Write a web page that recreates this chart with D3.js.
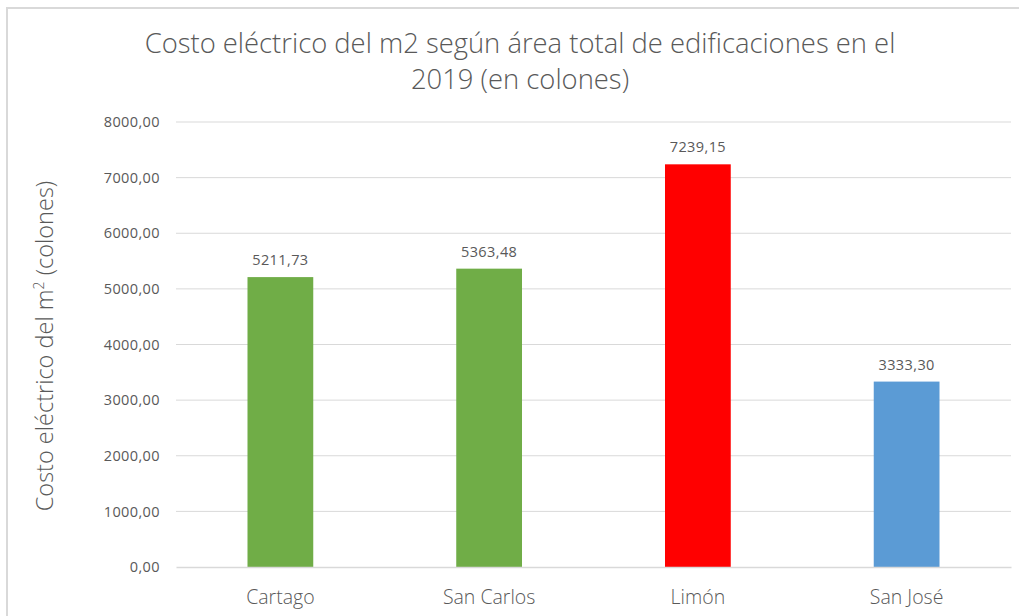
<!DOCTYPE html>
<html>
<head>
<meta charset="utf-8">
<script src="https://cdn.jsdelivr.net/npm/d3@7"></script>
<style>
  html, body { margin: 0; padding: 0; background: #fff; }
  svg { display: block; }
  text { font-family: "Open Sans", sans-serif; fill: #595959; }
</style>
</head>
<body>
<div id="chart"></div>
<script>
// Cost per square metre by canton, 2019
const categories = ["Cartago", "San Carlos", "Limón", "San José"];
const values = [5211.73, 5363.48, 7239.15, 3333.30];
const barColors = ["#70AD47", "#70AD47", "#FF0000", "#5B9BD5"];
const yTicks = [0, 1000, 2000, 3000, 4000, 5000, 6000, 7000, 8000];
const titleLines = ["Costo eléctrico del m2 según área total de edificaciones en el", "2019 (en colones)"];

const W = 1019, H = 616;
const margin = { left: 176, right: 8, top: 122, bottom: 49 };

const svg = d3.select("#chart").append("svg")
  .attr("width", W).attr("height", H);

// outer chart frame
svg.append("rect")
  .attr("x", 7).attr("y", 8)
  .attr("width", W + 40).attr("height", H + 40)
  .attr("fill", "none")
  .attr("stroke", "#d9d9d9")
  .attr("stroke-width", 2);

const fmt = v => d3.format(".2f")(v).replace(".", ",");

const x = d3.scaleBand()
  .domain(categories)
  .range([margin.left, W - margin.right])
  .paddingInner(0.685)
  .paddingOuter(0.3425);

const y = d3.scaleLinear()
  .domain([0, 8000])
  .range([H - margin.bottom, margin.top]);

// gridlines
svg.append("g")
  .selectAll("line")
  .data(yTicks.filter(d => d > 0))
  .join("line")
  .attr("x1", margin.left).attr("x2", W - margin.right)
  .attr("y1", d => y(d)).attr("y2", d => y(d))
  .attr("stroke", "#d9d9d9").attr("stroke-width", 1);

// y axis labels
const yAxis = svg.append("g")
  .attr("transform", `translate(${margin.left},0)`)
  .call(d3.axisLeft(y).tickValues(yTicks).tickFormat(fmt).tickSize(0).tickPadding(16));
yAxis.select(".domain").remove();
yAxis.selectAll("text")
  .style("font-family", "'Open Sans', sans-serif")
  .style("font-size", "14.5px")
  .style("letter-spacing", "0.4px")
  .attr("fill", "#595959");

// bars
svg.append("g")
  .selectAll("rect")
  .data(values)
  .join("rect")
  .attr("x", (d, i) => x(categories[i]))
  .attr("width", x.bandwidth())
  .attr("y", d => y(d))
  .attr("height", d => y(0) - y(d))
  .attr("fill", (d, i) => barColors[i]);

// x axis
const xAxis = svg.append("g")
  .attr("transform", `translate(0,${y(0)})`)
  .call(d3.axisBottom(x).tickSize(0).tickPadding(23));
xAxis.select(".domain").attr("stroke", "#d9d9d9").attr("stroke-width", 1.5);
xAxis.selectAll("text")
  .style("font-family", "'Open Sans', sans-serif")
  .style("font-size", "19.5px")
  .style("font-weight", 300)
  .attr("fill", "#595959");

// value labels
svg.append("g")
  .selectAll("text")
  .data(values)
  .join("text")
  .attr("x", (d, i) => x(categories[i]) + x.bandwidth() / 2)
  .attr("y", d => y(d) - 12)
  .attr("text-anchor", "middle")
  .style("font-size", "14.5px")
  .style("letter-spacing", "0.4px")
  .text(d => fmt(d));

// title
svg.append("text")
  .attr("x", 520).attr("y", 53)
  .attr("text-anchor", "middle")
  .style("font-size", "27.4px")
  .style("font-weight", 300)
  .selectAll("tspan")
  .data(titleLines)
  .join("tspan")
  .attr("x", 520)
  .attr("dy", (d, i) => i === 0 ? 0 : 36)
  .text(d => d);

// y axis title
const yt = svg.append("text")
  .attr("transform", "translate(53,346) rotate(-90)")
  .attr("text-anchor", "middle")
  .style("font-size", "23.5px")
  .style("font-weight", 300);
yt.append("tspan").text("Costo eléctrico del m");
yt.append("tspan").attr("dy", -9).style("font-size", "14px").text("2");
yt.append("tspan").attr("dy", 9).text(" (colones)");
</script>
</body>
</html>
